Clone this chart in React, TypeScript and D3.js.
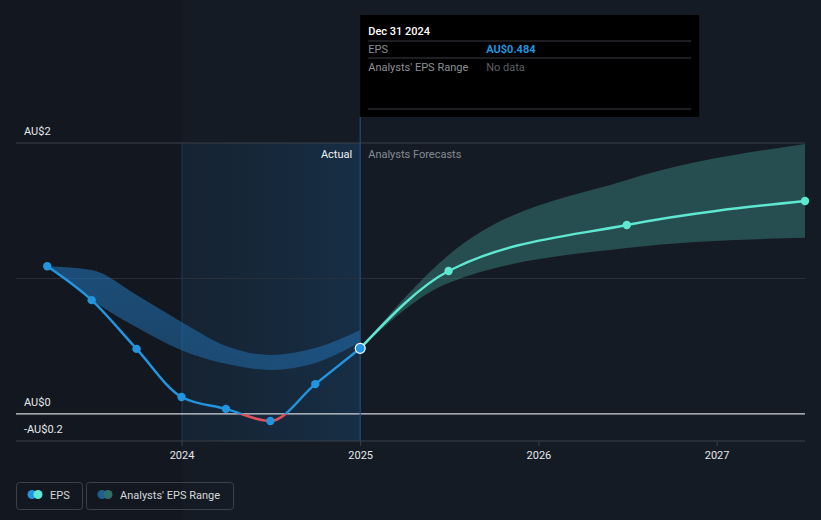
import { useEffect } from 'react';
import * as d3 from 'd3';

const actualDates = ['2023-03-31', '2023-06-30', '2023-09-30', '2023-12-31', '2024-03-31', '2024-06-30', '2024-09-30', '2024-12-31'];
const actualEps = [1.09, 0.84, 0.48, 0.125, 0.037, -0.052, 0.22, 0.484];
const pastLow = [1.09, 0.84, 0.64, 0.47, 0.37, 0.325, 0.376, 0.53];
const pastHigh = [1.09, 1.063, 0.878, 0.679, 0.502, 0.435, 0.487, 0.62];

const forecastDates = ['2024-12-31', '2025-06-30', '2026-06-30', '2027-06-30'];
const forecastEps = [0.484, 1.055, 1.395, 1.572];
const forecastLow = [0.484, 0.967, 1.225, 1.3];
const forecastHigh = [0.484, 1.173, 1.727, 1.993];

const yTicks = [2, 1, 0, -0.2];
const yTickLabels = ['AU$2', '', 'AU$0', '-AU$0.2'];
const xTickYears = [2024, 2025, 2026, 2027];

const W = 821;
const H = 520;
const FONT = 'Roboto, "Noto Sans", sans-serif';
const BLUE = '#2394df';
const TEAL = '#5ee8d2';
const RED = '#e0505a';

const parse = d3.timeParse('%Y-%m-%d');

export default function App() {
  useEffect(() => {
    document.body.style.margin = '0';
    document.body.style.background = '#151b24';
  }, []);

  const x = d3.scaleTime()
    .domain([new Date(2023, 0, 26), new Date(2027, 5, 30)])
    .range([16, 805]);
  const y = d3.scaleLinear().domain([-0.2, 2]).range([441, 143]);

  const past = actualDates.map((d, i) => ({ date: parse(d)!, v: actualEps[i], lo: pastLow[i], hi: pastHigh[i] }));
  const fut = forecastDates.map((d, i) => ({ date: parse(d)!, v: forecastEps[i], lo: forecastLow[i], hi: forecastHigh[i] }));

  const line = d3.line<{ date: Date; v: number }>()
    .x((d) => x(d.date))
    .y((d) => y(d.v))
    .curve(d3.curveMonotoneX);
  const band = d3.area<{ date: Date; lo: number; hi: number }>()
    .x((d) => x(d.date))
    .y0((d) => y(d.lo))
    .y1((d) => y(d.hi))
    .curve(d3.curveMonotoneX);

  const y0 = y(0);
  const xNow = x(parse('2024-12-31')!);
  const xStart = x(new Date(2024, 0, 1));
  const last = past[past.length - 1];

  return (
    <svg width={W} height={H} style={{ display: 'block', fontFamily: FONT }}>
      <defs>
        <linearGradient id="hl" x1="0" x2="1" y1="0" y2="0">
          <stop offset="0%" stopColor="#1a5a90" stopOpacity={0.12} />
          <stop offset="100%" stopColor="#1a5a90" stopOpacity={0.3} />
        </linearGradient>
        <linearGradient id="pastBand" x1="0" x2="0" y1="0" y2="1">
          <stop offset="0%" stopColor="#2379c0" stopOpacity={0.55} />
          <stop offset="100%" stopColor="#2379c0" stopOpacity={0.45} />
        </linearGradient>
        <clipPath id="above">
          <rect x={0} y={0} width={W} height={y0} />
        </clipPath>
        <clipPath id="below">
          <rect x={0} y={y0} width={W} height={H - y0} />
        </clipPath>
      </defs>

      <rect x={0} y={0} width={W} height={H} fill="#151b24" />
      <rect x={0} y={0} width={xStart} height={H} fill="#131820" />

      {/* highlighted past year */}
      <rect x={xStart} y={143} width={xNow - xStart} height={441 - 143} fill="url(#hl)" />
      <line x1={xStart} x2={xStart} y1={143} y2={441} stroke="#1d3a55" strokeWidth={1} />

      {/* gridlines */}
      {yTicks.map((t) => (
        <line
          key={t}
          x1={16}
          x2={805}
          y1={y(t)}
          y2={y(t)}
          stroke={t === 0 ? '#d0d4da' : t === 1 ? '#2a313b' : '#3b414b'}
          strokeWidth={t === 0 ? 1.2 : 1}
        />
      ))}
      {yTicks.map((t, i) =>
        yTickLabels[i] ? (
          <text key={'l' + t} x={24} y={y(t) - 8} fill="#e6e8eb" fontSize={11}>
            {yTickLabels[i]}
          </text>
        ) : null
      )}

      {/* x axis */}
      {xTickYears.map((yr) => {
        const xx = x(new Date(yr, 0, 1));
        return (
          <g key={yr}>
            <line x1={xx} x2={xx} y1={441} y2={446} stroke="#3b414b" />
            <text x={xx} y={459} fill="#e6e8eb" fontSize={11} textAnchor="middle">
              {yr}
            </text>
          </g>
        );
      })}

      <text x={xNow - 8} y={158} fill="#f0f2f4" fontSize={11} textAnchor="end">Actual</text>
      <text x={xNow + 8} y={158} fill="#868b93" fontSize={11}>Analysts Forecasts</text>

      {/* bands */}
      <path d={band(past) ?? ''} fill="url(#pastBand)" />
      <path d={band(fut) ?? ''} fill="#4fc4b4" fillOpacity={0.3} />

      {/* hover line */}
      <line x1={xNow} x2={xNow} y1={117} y2={441} stroke="#1f4d75" strokeWidth={1.2} />

      {/* lines */}
      <path d={line(past) ?? ''} fill="none" stroke={BLUE} strokeWidth={2.5} clipPath="url(#above)" />
      <path d={line(past) ?? ''} fill="none" stroke={RED} strokeWidth={2.5} clipPath="url(#below)" />
      <path d={line(fut) ?? ''} fill="none" stroke={TEAL} strokeWidth={2.5} />

      {past.slice(0, -1).map((d, i) => (
        <circle key={'p' + i} cx={x(d.date)} cy={y(d.v)} r={4.2} fill={BLUE} />
      ))}
      {fut.slice(1).map((d, i) => (
        <circle key={'f' + i} cx={x(d.date)} cy={y(d.v)} r={4.2} fill={TEAL} />
      ))}
      <circle cx={x(last.date)} cy={y(last.v)} r={5} fill={BLUE} stroke="#ffffff" strokeWidth={1.2} />

      {/* tooltip */}
      <g transform={`translate(${xNow},15)`}>
        <rect x={0} y={0} width={339} height={102} fill="#000000" />
        <text x={8} y={20} fill="#ffffff" fontSize={11} fontWeight={500}>Dec 31 2024</text>
        <line x1={8} x2={331} y1={26} y2={26} stroke="#3a3d42" />
        <text x={8} y={38} fill="#8b9097" fontSize={11}>EPS</text>
        <text x={126} y={38} fill={BLUE} fontSize={11} fontWeight={700}>AU$0.484</text>
        <line x1={8} x2={331} y1={43} y2={43} stroke="#3a3d42" />
        <text x={8} y={56} fill="#8b9097" fontSize={11}>Analysts' EPS Range</text>
        <text x={126} y={56} fill="#5d6168" fontSize={11}>No data</text>
        <line x1={8} x2={331} y1={94} y2={94} stroke="#3a3d42" />
      </g>

      {/* legend */}
      <g>
        <rect x={16.5} y={482.5} width={66} height={27} rx={3} fill="none" stroke="#3b414b" />
        <circle cx={32} cy={494.5} r={4.5} fill={BLUE} />
        <circle cx={38} cy={494.5} r={4.5} fill={TEAL} />
        <text x={50} y={498.5} fill="#d5d8dc" fontSize={11}>EPS</text>
        <rect x={86.5} y={482.5} width={147} height={27} rx={3} fill="none" stroke="#3b414b" />
        <circle cx={102} cy={494.5} r={4.5} fill="#1f5e8e" />
        <circle cx={108} cy={494.5} r={4.5} fill="#2f6f6b" />
        <text x={120} y={498.5} fill="#d5d8dc" fontSize={11}>Analysts' EPS Range</text>
      </g>
    </svg>
  );
}
